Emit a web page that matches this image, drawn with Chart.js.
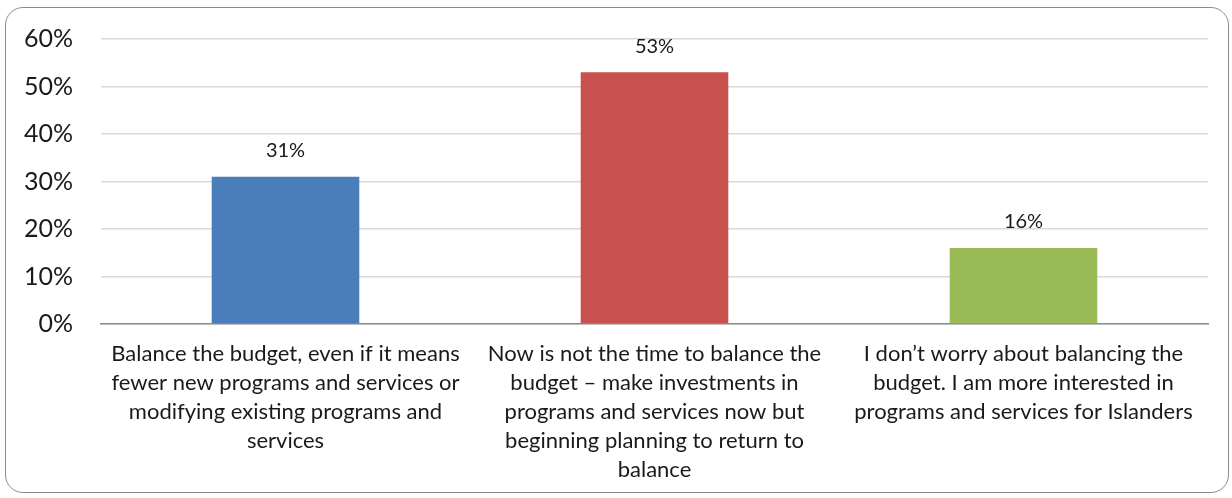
<!DOCTYPE html>
<html>
<head>
<meta charset="utf-8">
<script src="https://cdn.jsdelivr.net/npm/chart.js@4/dist/chart.umd.min.js"></script>
<style>
  html, body { margin: 0; padding: 0; background: #fff; overflow: hidden; }
  #wrap { position: relative; width: 1232px; height: 498px; overflow: hidden; }
  #frame {
    position: absolute; left: 5px; top: 7px; width: 1224px; height: 486px;
    border: 1.5px solid #8c8c8c; border-radius: 18px; box-sizing: border-box;
  }
  canvas { position: absolute; left: 0; top: -4px; }
</style>
</head>
<body>
<div id="wrap">
  <div id="frame"></div>
  <canvas id="budgetChart" width="1232" height="498"></canvas>
</div>
<script>
const categories = [
    ["Balance the budget, even if it means", "fewer new programs and services or", "modifying existing programs and", "services"],
    ["Now is not the time to balance the", "budget \u2013 make investments in", "programs and services now but", "beginning planning to return to", "balance"],
    ["I don\u2019t worry about balancing the", "budget. I am more interested in", "programs and services for Islanders"]
];
const values = [31, 53, 16];
const barColors = ["#4A7EBB", "#C8504E", "#9BBB59"];
const yTicks = [0, 10, 20, 30, 40, 50, 60];

const FONT = "Lato, 'Open Sans', sans-serif";

// draws the "31%" style labels above each bar
const valueLabels = {
    id: "valueLabels",
    afterDatasetsDraw(chart) {
        const ctx = chart.ctx;
        const meta = chart.getDatasetMeta(0);
        ctx.save();
        ctx.font = "20px " + FONT;
        ctx.fillStyle = "#1a1a1a";
        ctx.textAlign = "center";
        ctx.textBaseline = "middle";
        meta.data.forEach((bar, i) => {
            ctx.fillText(values[i] + "%", bar.x, bar.y - 26);
        });
        ctx.restore();
    }
};

document.addEventListener("DOMContentLoaded", function () {
    const area = document.getElementById("budgetChart");
    new Chart(area.getContext("2d"), {
        type: "bar",
        data: {
            labels: categories,
            datasets: [{
                data: values,
                backgroundColor: barColors,
                borderWidth: 0,
                barPercentage: 0.4,
                categoryPercentage: 1.0
            }]
        },
        options: {
            responsive: false,
            animation: false,
            layout: { padding: { top: 35, right: 24, left: 0, bottom: 0 } },
            plugins: { legend: { display: false }, tooltip: { enabled: false } },
            scales: {
                x: {
                    grid: { display: false, drawTicks: false },
                    border: { display: true, color: "#8c8c8c", width: 1.5 },
                    ticks: {
                        color: "#1a1a1a",
                        font: { family: FONT, size: 22, lineHeight: 1.32 },
                        padding: 15,
                        maxRotation: 0,
                        autoSkip: false
                    },
                    afterFit(scale) { scale.height = 170; }
                },
                y: {
                    min: 0,
                    max: 60,
                    afterBuildTicks(scale) { scale.ticks = yTicks.map(v => ({ value: v })); },
                    grid: { color: "#d9d9d9", lineWidth: 1.5, drawTicks: false },
                    border: { display: false },
                    ticks: {
                        color: "#1a1a1a",
                        font: { family: FONT, size: 25 },
                        padding: 28,
                        callback: v => v + "%"
                    },
                    afterFit(scale) { scale.width = 101; }
                }
            }
        },
        plugins: [valueLabels]
    });
});
</script>
</body>
</html>
